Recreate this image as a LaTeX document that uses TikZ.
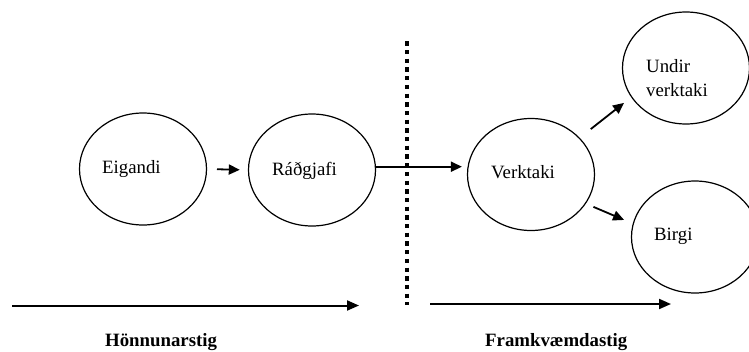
\documentclass[tikz,border=0pt]{standalone}
\usepackage{fontspec}
\setmainfont{Liberation Serif}
\usetikzlibrary{arrows.meta,shapes.geometric}
\begin{document}
\begin{tikzpicture}[x=1pt,y=-1pt,
  actor/.style={draw,ellipse,line width=1.2pt,minimum width=127pt,minimum height=112pt,inner sep=0pt,outer sep=0pt},
  lbl/.style={anchor=base west,inner sep=0pt,font=\fontsize{18.8}{24}\selectfont},
  phase/.style={anchor=base west,inner sep=0pt,font=\fontsize{18.8}{24}\selectfont\bfseries},
  flow/.style={line width=1.8pt,-{Triangle[length=11pt,width=10pt]}},
  span/.style={line width=2pt,-{Triangle[length=12pt,width=10pt]}},
  divider/.style={line width=4pt,dash pattern=on 4.3pt off 4.4pt}]
\useasboundingbox (0,0) rectangle (749,351);

% actors
\node[actor] (eig)   at (143,169)   {};
\node[actor] (rad)   at (312,170)   {};
\node[actor] (verk)  at (531,174.5) {};
\node[actor] (undir) at (686,68)    {};
\node[actor] (birgi) at (695,237)   {};

% actor names
\node[lbl] (teig)   at (102,173)   {Eigandi};
\node[lbl] (trad)   at (272,175)   {Ráðgjafi};
\node[lbl] (tverk)  at (491,178.3) {Verktaki};
\node[lbl] (tund1)  at (646,72.3)  {Undir};
\node[lbl] (tund2)  at (646,96.7)  {verktaki};
\node[lbl] (tbirgi) at (654,240)   {Birgi};

% flow between actors
\draw[flow,shorten <=10.5pt,shorten >=8.7pt] (eig.east) -- (rad.west);
\draw[flow,shorten >=5.6pt] ([yshift=3.3pt]rad.east) -- ([yshift=3.3pt]rad.east -| verk.west);
\draw[flow,shorten <=14.6pt,shorten >=9.7pt] (verk.37) -- (undir.208.3);
\draw[flow,shorten <=8.8pt,shorten >=10pt] (verk.332.2) -- (birgi.168.7);

% boundary between the two phases
\coordinate (dtop) at (406.7,41.3);
\coordinate (dbot) at (406.7,305);
\draw[divider] (dtop) -- (dbot);

% phase arrows
\coordinate (d1s) at (12,305.5);
\coordinate (d1e) at (359,305.5);
\coordinate (d2s) at (430,304);
\coordinate (d2e) at (671,304);
\draw[span] (d1s) -- (d1e);
\draw[span] (d2s) -- (d2e);

% phase names
\node[phase] (ph1) at (105,346) {Hönnunarstig};
\node[phase] (ph2) at (485,346) {Framkvæmdastig};
\end{tikzpicture}
\end{document}
